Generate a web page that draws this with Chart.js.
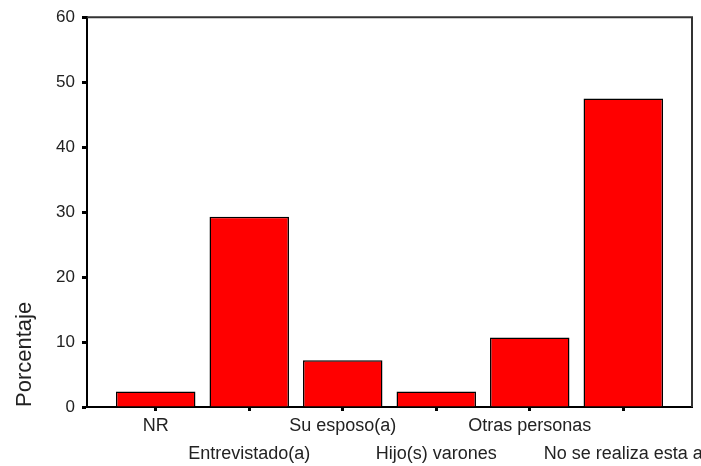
<!DOCTYPE html>
<html>
<head>
<meta charset="utf-8">
<script src="https://cdn.jsdelivr.net/npm/chart.js@4.4.1/dist/chart.umd.min.js"></script>
<style>
  html, body { margin: 0; padding: 0; background: #fff; }
  #wrap { width: 701px; height: 466px; }
</style>
</head>
<body>
<div id="wrap"><canvas id="chart"></canvas></div>
<script>
// Data
const categories = ['NR', 'Entrevistado(a)', 'Su esposo(a)', 'Hijo(s) varones', 'Otras personas', 'No se realiza esta a'];
const porcentajes = [2.4, 29.3, 7.2, 2.4, 10.7, 47.5];
const yTicks = [0, 10, 20, 30, 40, 50, 60];

Chart.defaults.font.family = "'Liberation Sans', Arial, sans-serif";
Chart.defaults.color = '#222';

// top and right lines of the frame round the plot
const framePlugin = {
    id: 'frame',
    afterDraw(chart) {
        const { ctx, chartArea } = chart;
        ctx.save();
        ctx.strokeStyle = '#333';
        ctx.lineWidth = 2;
        ctx.beginPath();
        ctx.moveTo(chartArea.left, chartArea.top);
        ctx.lineTo(chartArea.right, chartArea.top);
        ctx.lineTo(chartArea.right, chartArea.bottom);
        ctx.stroke();
        ctx.restore();
    }
};

const ctx = document.getElementById('chart').getContext('2d');
new Chart(ctx, {
    type: 'bar',
    data: {
        datasets: [{
            data: porcentajes.map((v, i) => ({ x: i, y: v })),
            backgroundColor: '#ff0000',
            borderColor: '#000',
            borderWidth: 1.5,
            categoryPercentage: 1,
            barPercentage: 0.85
        }]
    },
    options: {
        responsive: true,
        maintainAspectRatio: false,
        animation: false,
        layout: { padding: { top: 16, right: 9, left: 0, bottom: 0 } },
        plugins: {
            legend: { display: false },
            tooltip: { enabled: false }
        },
        scales: {
            x: {
                type: 'linear',
                min: -0.735,
                max: 5.735,
                offset: false,
                grid: {
                    offset: false,
                    drawOnChartArea: false,
                    tickLength: 4,
                    tickWidth: 3,
                    tickColor: '#000'
                },
                border: { display: true, color: '#000', width: 2 },
                ticks: {
                    stepSize: 1,
                    includeBounds: false,
                    autoSkip: false,
                    maxRotation: 0,
                    minRotation: 0,
                    padding: 1,
                    font: { size: 18, lineHeight: 1.55 },
                    callback: function(v) {
                        if (!Number.isInteger(v) || !categories[v]) return '';
                        return v % 2 === 0 ? [categories[v], ''] : ['', categories[v]];
                    }
                },
                afterFit: function(s) {
                    s.height = 59;
                    s.paddingLeft = 0;
                    s.paddingRight = 0;
                }
            },
            y: {
                min: 0,
                max: 60,
                grid: {
                    drawOnChartArea: false,
                    tickLength: 5,
                    tickWidth: 3,
                    tickColor: '#000'
                },
                border: { display: true, color: '#000', width: 2 },
                afterBuildTicks: function(s) {
                    s.ticks = yTicks.map(v => ({ value: v }));
                },
                ticks: {
                    padding: 7,
                    font: { size: 17 }
                },
                title: {
                    display: true,
                    text: 'Porcentaje',
                    align: 'start',
                    font: { size: 22 },
                    padding: { top: 12, bottom: 0 }
                },
                afterFit: function(s) {
                    s.width = 87;
                }
            }
        }
    },
    plugins: [framePlugin]
});
</script>
</body>
</html>
